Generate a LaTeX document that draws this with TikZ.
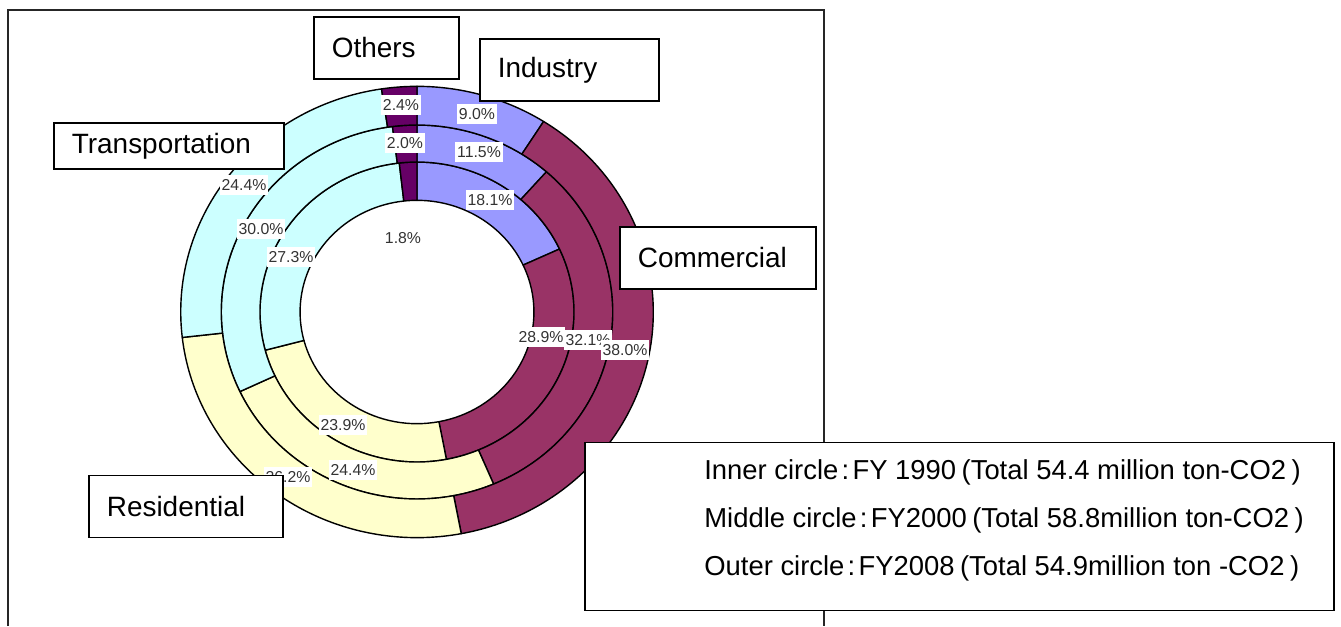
\documentclass[tikz,border=0pt]{standalone}
\usepackage{fontspec}
\setmainfont{Liberation Sans}
\usepackage{tikz}
\usetikzlibrary{positioning}

\definecolor{industry}{HTML}{9999FF}
\definecolor{commercial}{HTML}{993366}
\definecolor{residential}{HTML}{FFFFCC}
\definecolor{transport}{HTML}{CCFFFF}
\definecolor{others}{HTML}{660066}

\begin{document}
\begin{tikzpicture}[x=0.02cm,y=0.02cm]
\tikzstyle{ring}=[draw=black,line width=0.8pt,line join=round]
\tikzstyle{pct}=[fill=white,text=black!80,font=\fontsize{9}{10}\selectfont,inner xsep=1pt,inner ysep=2.5pt]
\tikzstyle{cat}=[draw=black,fill=white,line width=1pt,font=\fontsize{15.9}{18}\selectfont,inner xsep=0.36cm,minimum height=1.24cm,anchor=west,align=left]
\tikzstyle{legtext}=[anchor=base west,inner sep=0pt,font=\fontsize{15.6}{18}\selectfont]

\useasboundingbox (0,0) rectangle (1341,626);
\draw[black!85,line width=0.6pt] (8,0) |- (824,616) -- (824,0);

\begin{scope}[shift={(417,314)},xscale=1.047]
% inner circle: FY1990
\foreach \a/\b/\col in {90/24.84/industry, 24.84/-79.2/commercial, -79.2/-165.24/residential, -165.24/-263.52/transport, -263.52/-270/others}
  \draw[ring,fill=\col] (\a:2.234cm) arc[start angle=\a,end angle=\b,radius=2.234cm] -- (\b:3cm) arc[start angle=\b,end angle=\a,radius=3cm] -- cycle;
% middle circle: FY2000
\foreach \a/\b/\col in {90/48.6/industry, 48.6/-66.96/commercial, -66.96/-154.8/residential, -154.8/-262.8/transport, -262.8/-270/others}
  \draw[ring,fill=\col] (\a:3cm) arc[start angle=\a,end angle=\b,radius=3cm] -- (\b:3.74cm) arc[start angle=\b,end angle=\a,radius=3.74cm] -- cycle;
% outer circle: FY2008
\foreach \a/\b/\col in {90/57.6/industry, 57.6/-79.2/commercial, -79.2/-173.52/residential, -173.52/-261.36/transport, -261.36/-270/others}
  \draw[ring,fill=\col] (\a:3.74cm) arc[start angle=\a,end angle=\b,radius=3.74cm] -- (\b:4.514cm) arc[start angle=\b,end angle=\a,radius=4.514cm] -- cycle;
\end{scope}

% shares
\node[pct] (i1) at (490,426) {18.1\%};
\node[pct] (i2) at (541,289) {28.9\%};
\node[pct] (i3) at (343,201) {23.9\%};
\node[pct] (i4) at (291,369) {27.3\%};
\node[pct] (i5) at (403,388) {1.8\%};
\node[pct] (m1) at (479,474) {11.5\%};
\node[pct] (m2) at (588,286) {32.1\%};
\node[pct] (m3) at (353,156) {24.4\%};
\node[pct] (m4) at (261,397) {30.0\%};
\node[pct] (m5) at (405,483) {2.0\%};
\node[pct] (o1) at (477,512) {9.0\%};
\node[pct] (o2) at (625,276) {38.0\%};
\node[pct] (o3) at (288,149) {26.2\%};
\node[pct] (o4) at (244,441) {24.4\%};
\node[pct] (o5) at (401,521) {2.4\%};

% sectors
\node[cat,text width=2.18cm] (oth) at (313,578) {Others};
\node[cat,text width=2.86cm] (ind) at (479,556) {Industry};
\node[cat,text width=3.88cm,minimum height=0.92cm] (trn) at (53,480) {Transportation};
\node[cat,text width=3.2cm] (com) at (619,368) {Commercial};
\node[cat,text width=3.16cm] (res) at (88,119.5) {Residential};

% legend
\node[draw=black,fill=white,line width=1pt,minimum width=14.98cm,minimum height=3.36cm,anchor=north west,inner sep=0pt] (leg) at (584,184.3) {};
\node[legtext] (l1) at (704,147) {Inner circle\hspace{0.12em}:\hspace{0.12em}FY 1990\hspace{0.2em}(Total 54.4 million ton-CO2\hspace{0.2em})};
\node[legtext] (l2) at (704,99) {Middle circle\hspace{0.12em}:\hspace{0.12em}FY2000\hspace{0.2em}(Total 58.8million ton-CO2\hspace{0.2em})};
\node[legtext] (l3) at (704,51) {Outer circle\hspace{0.12em}:\hspace{0.12em}FY2008\hspace{0.2em}(Total 54.9million ton -CO2\hspace{0.2em})};
\end{tikzpicture}
\end{document}
